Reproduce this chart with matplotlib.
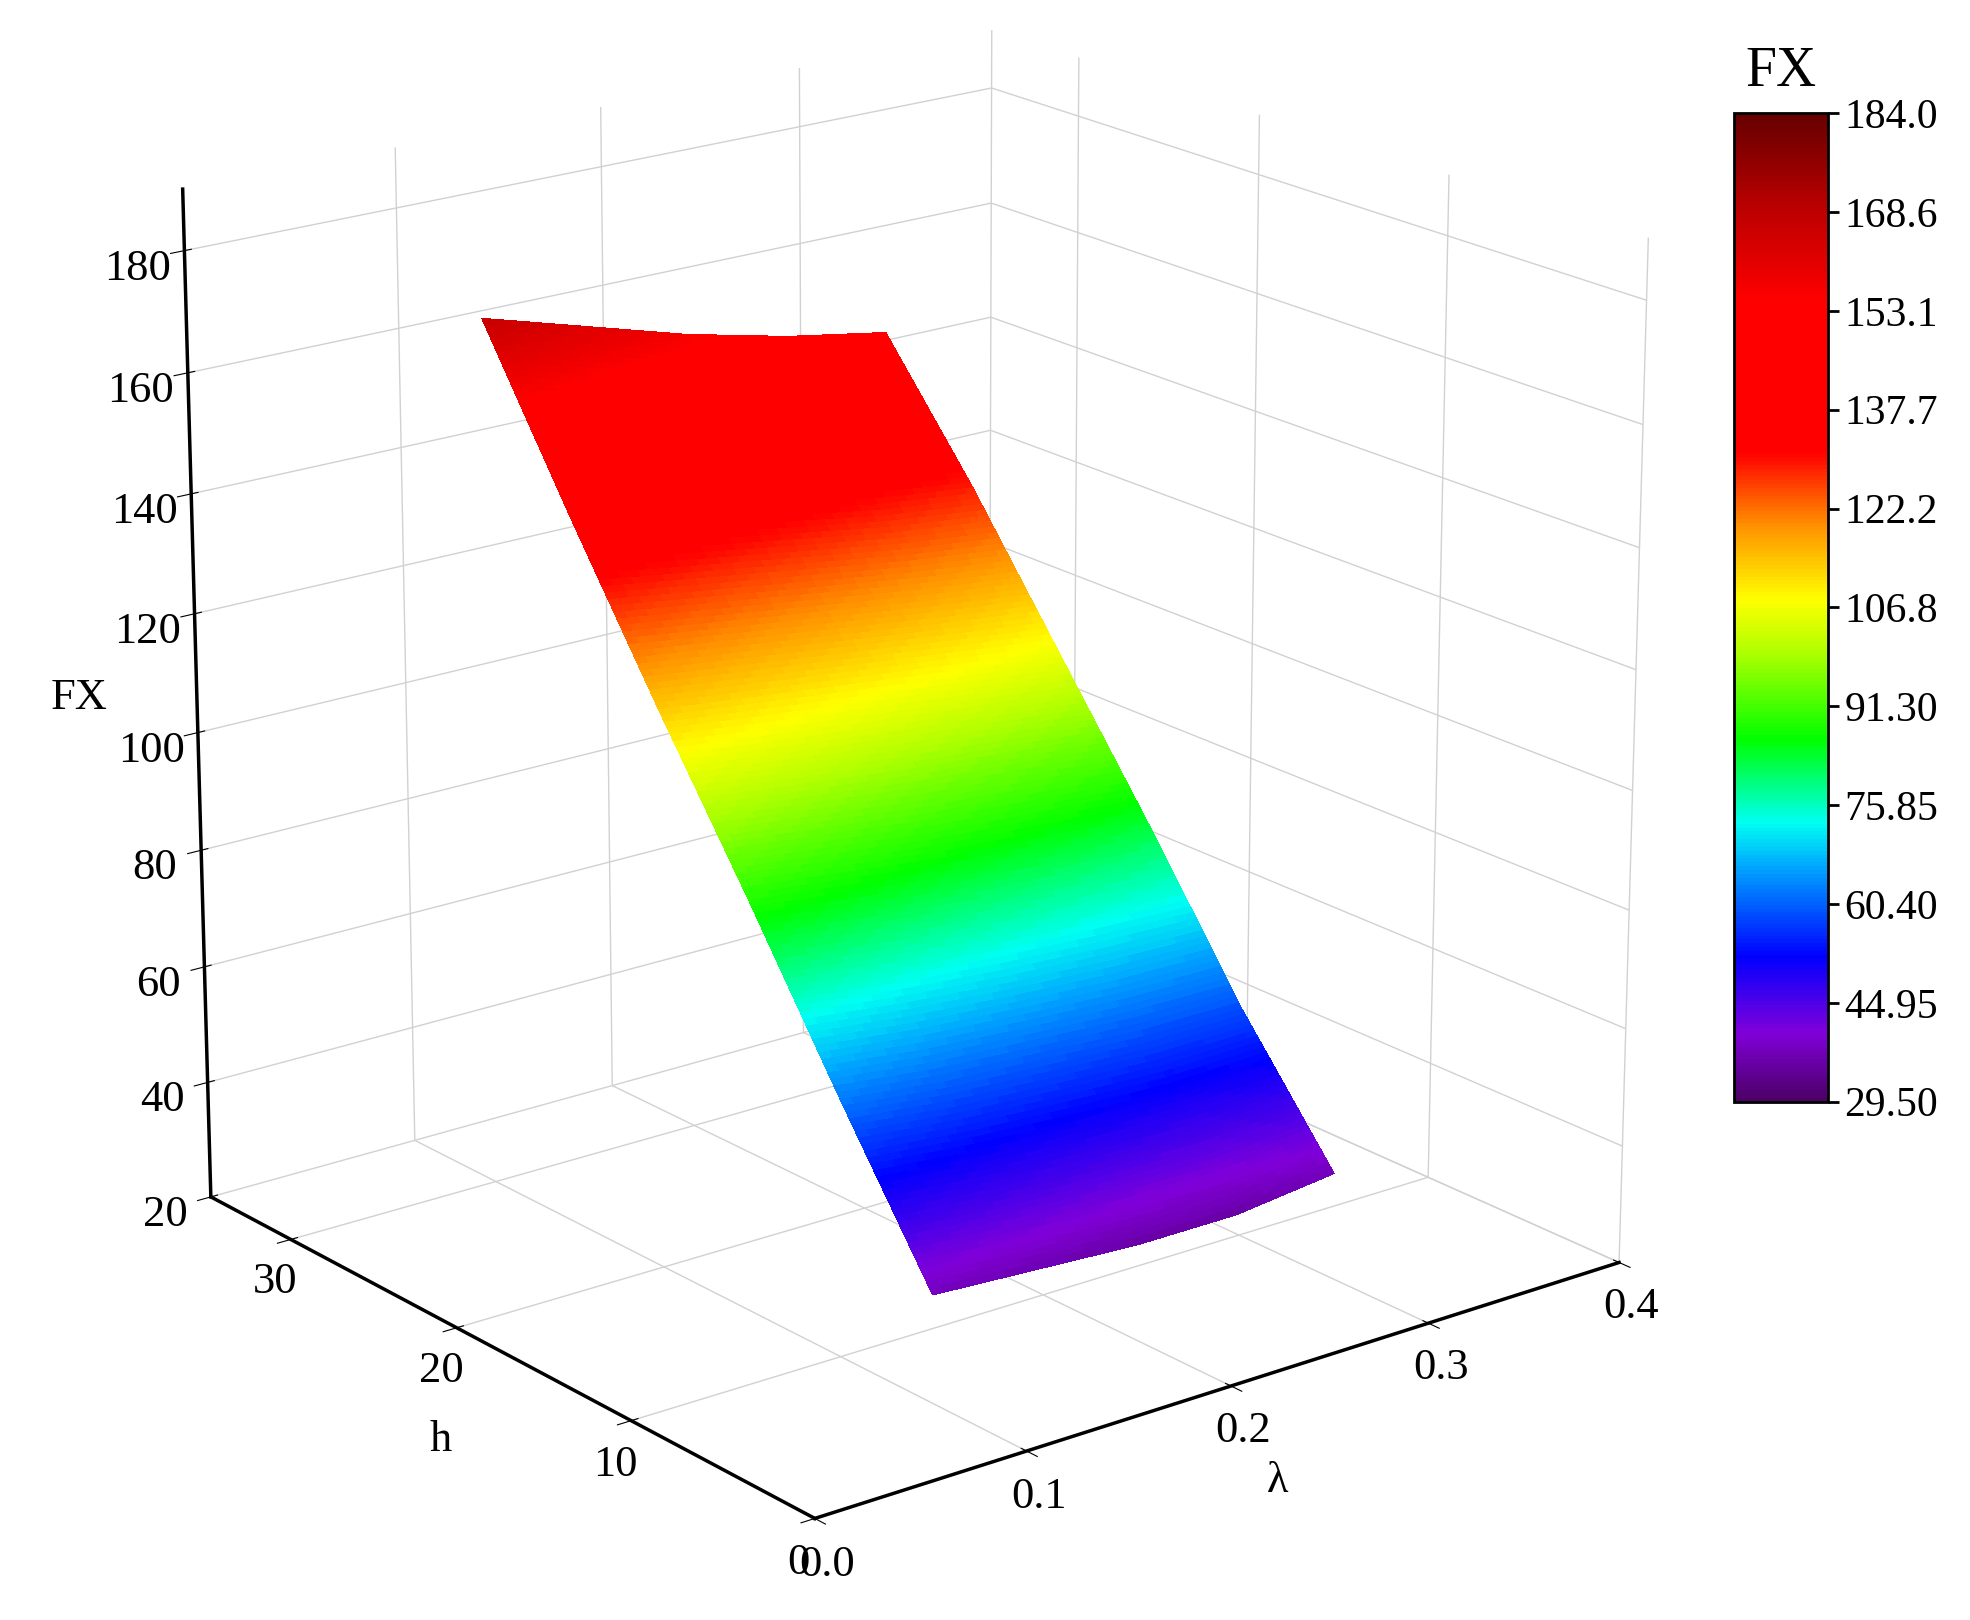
import numpy as np
import matplotlib
matplotlib.use("Agg")
import matplotlib.pyplot as plt
from matplotlib.colors import LinearSegmentedColormap, Normalize
from matplotlib.cm import ScalarMappable

plt.rcParams['font.family'] = ['Liberation Serif', 'DejaVu Serif']

lam = [0.10, 0.15, 0.20, 0.25, 0.30]
h = [5, 10, 15, 20, 25, 30]
FX = [
    [38, 37, 36, 36, 38],
    [63, 61, 60, 59, 59],
    [89, 87, 85, 84, 83],
    [114, 112, 110, 108, 106],
    [140, 137, 134, 131, 129],
    [167, 162, 157, 153, 150],
]
cb_ticks = [29.50, 44.95, 60.40, 75.85, 91.30, 106.8, 122.2, 137.7, 153.1, 168.6, 184.0]
cb_labels = ["29.50", "44.95", "60.40", "75.85", "91.30", "106.8", "122.2", "137.7", "153.1", "168.6", "184.0"]

vmin, vmax = 29.5, 184.0
nodes = [(29.5, (0.30, 0.0, 0.40)), (40, (0.50, 0.0, 0.85)), (52, (0.0, 0.0, 1.0)),
         (65, (0.0, 0.6, 1.0)), (73, (0.0, 1.0, 0.95)), (86, (0.0, 1.0, 0.0)),
         (100, (0.7, 1.0, 0.0)), (108, (1.0, 1.0, 0.0)), (120, (1.0, 0.55, 0.0)),
         (131, (1.0, 0.0, 0.0)), (155, (1.0, 0.0, 0.0)), (170, (0.72, 0.0, 0.0)),
         (184, (0.40, 0.0, 0.0))]
cmap = LinearSegmentedColormap.from_list("fx", [((v - vmin) / (vmax - vmin), c) for v, c in nodes], N=256)
norm = Normalize(vmin, vmax)

Z0 = np.array(FX, dtype=float)
lf = np.linspace(lam[0], lam[-1], 41)
hf = np.linspace(h[0], h[-1], 151)
Zr = np.array([np.interp(lf, lam, row) for row in Z0])
Zf = np.array([np.interp(hf, h, Zr[:, j]) for j in range(len(lf))]).T
L, H = np.meshgrid(lf, hf)

fig = plt.figure(figsize=(19.7, 16.2), dpi=100)
ax = fig.add_axes([0.02, 0.035, 0.86, 1.0], projection='3d')
ax.plot_surface(L, H, Zf, facecolors=cmap(norm(Zf)), rstride=1, cstride=1,
                linewidth=0, antialiased=False, shade=False)
ax.set_xlim(0, 0.4)
ax.set_ylim(0, 35)
ax.set_zlim(20, 190)
ax.set_xticks([0.0, 0.1, 0.2, 0.3, 0.4])
ax.set_xticklabels(["0.0", "0.1", "0.2", "0.3", "0.4"])
ax.set_yticks([0, 10, 20, 30])
ax.set_zticks([20, 40, 60, 80, 100, 120, 140, 160, 180])
ax.tick_params(labelsize=32)
ax.tick_params(axis='z', pad=12)
ax.set_xlabel("λ", fontsize=32, labelpad=22)
ax.set_ylabel("h", fontsize=32, labelpad=22)
ax.set_zlabel("FX", fontsize=32, labelpad=30)
for a in (ax.xaxis, ax.yaxis, ax.zaxis):
    a.set_pane_color((1, 1, 1, 0))
    a._axinfo['grid']['color'] = (0.82, 0.82, 0.82, 1)
    a._axinfo['grid']['linewidth'] = 1.0
    a.line.set_linewidth(2.5)
ax.view_init(elev=19, azim=-128)
ax.set_box_aspect((1, 1, 1.05), zoom=1.08)

cax = fig.add_axes([0.88, 0.32, 0.048, 0.61])
cb = fig.colorbar(ScalarMappable(norm=norm, cmap=cmap), cax=cax, ticks=cb_ticks)
cb.ax.set_yticklabels(cb_labels)
cb.ax.tick_params(labelsize=30, width=2, length=8)
cb.outline.set_linewidth(2)
cax.set_title("FX", fontsize=40, pad=20)
fig.savefig("out.png", dpi=100)
